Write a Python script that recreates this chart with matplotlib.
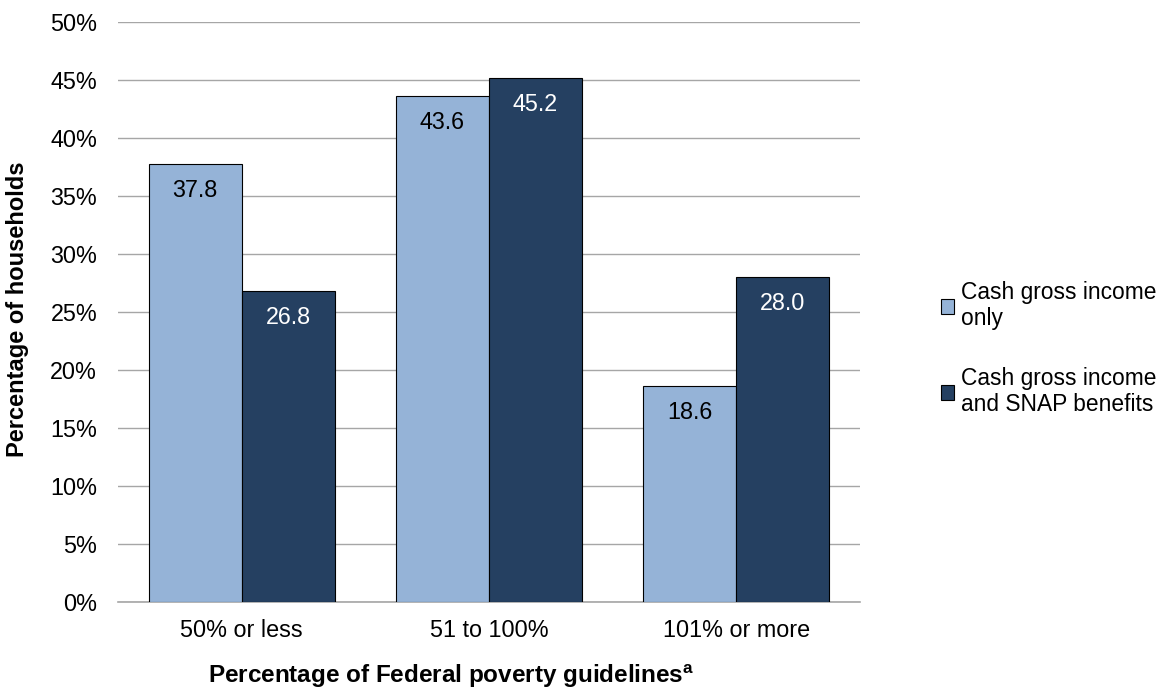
import matplotlib
matplotlib.use('Agg')
import matplotlib.pyplot as plt
import numpy as np

# data
categories = ['50% or less', '51 to 100%', '101% or more']
cash_only = [37.8, 43.6, 18.6]
cash_snap = [26.8, 45.2, 28.0]
series_names = ['Cash gross income\nonly', 'Cash gross income\nand SNAP benefits']
yticks = [0, 5, 10, 15, 20, 25, 30, 35, 40, 45, 50]

plt.rcParams['font.family'] = ['Liberation Sans', 'DejaVu Sans']
plt.rcParams['mathtext.fontset'] = 'custom'
plt.rcParams['mathtext.rm'] = 'Liberation Sans'
plt.rcParams['mathtext.bf'] = 'Liberation Sans:bold'

light = '#95b3d7'
dark = '#254061'
fs = 16.8

fig = plt.figure(figsize=(11.72, 6.90), dpi=100)
ax = fig.add_axes([0.1007, 0.1275, 0.633, 0.8405])

x = np.arange(len(categories))
w = 0.376
bars1 = ax.bar(x - w/2, cash_only, w, color=light, edgecolor='black', linewidth=0.8,
               label=series_names[0], zorder=3)
bars2 = ax.bar(x + w/2, cash_snap, w, color=dark, edgecolor='black', linewidth=0.8,
               label=series_names[1], zorder=3)

# value labels just under the bar tops
for b, v in zip(bars1, cash_only):
    ax.text(b.get_x() + b.get_width()/2, v - 1.3, '%.1f' % v, ha='center', va='top',
            fontsize=fs, color='black', zorder=4)
for b, v in zip(bars2, cash_snap):
    ax.text(b.get_x() + b.get_width()/2, v - 1.3, '%.1f' % v, ha='center', va='top',
            fontsize=fs, color='white', zorder=4)

ax.set_xlim(-0.5, 2.5)
ax.set_ylim(0, 50)
ax.set_yticks(yticks)
ax.set_yticklabels(['%d%%' % t for t in yticks], fontsize=fs)
ax.set_xticks(x)
ax.set_xticklabels(categories, fontsize=fs)
ax.tick_params(axis='x', length=0, pad=12)
ax.tick_params(axis='y', length=0, pad=15)

ax.yaxis.grid(True, color='#a6a6a6', linewidth=1.0, zorder=0)
for s in ['top', 'right', 'left']:
    ax.spines[s].set_visible(False)
ax.spines['bottom'].set_color('#a6a6a6')
ax.spines['bottom'].set_linewidth(1.2)

ax.set_xlabel(r'Percentage of Federal poverty guidelines$^{\mathbf{a}}$',
              fontsize=17.5, fontweight='bold')
ax.xaxis.set_label_coords(0.449, -0.104)
ax.set_ylabel('Percentage of households', fontsize=17, fontweight='bold')
ax.yaxis.set_label_coords(-0.12, 0.505)

leg = fig.legend(handles=[bars1, bars2], loc='center left', bbox_to_anchor=(0.785, 0.495),
                 frameon=False, fontsize=16.4, handlelength=0.6, handleheight=0.6,
                 handletextpad=0.3, labelspacing=1.6)

fig.savefig('out.png', dpi=100)
